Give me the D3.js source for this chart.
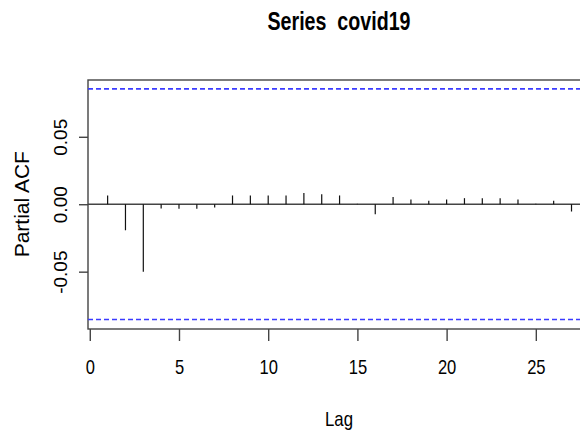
<!DOCTYPE html>
<html>
<head>
<meta charset="utf-8">
<script src="https://cdn.jsdelivr.net/npm/d3@7"></script>
<style>
	body { margin: 0; background: #fff; }
	text { fill: #000; }
</style>
</head>
<body>
<div id="chart"></div>
<script>
// Chart data.
var lags = [1, 2, 3, 4, 5, 6, 7, 8, 9, 10, 11, 12, 13, 14, 15, 16, 17, 18, 19, 20, 21, 22, 23, 24, 25, 26, 27];
var pacfValues = [0.0065, -0.0193, -0.0500, -0.0032, -0.0034, -0.0034, -0.0025, 0.0065, 0.0065, 0.0065,
	0.0065, 0.0084, 0.0074, 0.0065, 0.0003, -0.0074, 0.0054, 0.0035, 0.0025, 0.0035,
	0.0045, 0.0045, 0.0045, 0.0035, 0.0003, 0.0025, -0.0054];
var ciLimit = 0.0855;
var xTicks = [0, 5, 10, 15, 20, 25];
var yTicks = [-0.05, 0, 0.05];
var yTickLabels = ["-0.05", "0.00", "0.05"];

var width = 580;
var height = 434;
var plotLeft = 88, plotTop = 80, plotBottom = 329;
var narrowFont = "'Liberation Sans Narrow', 'Arial Narrow', 'Liberation Sans', sans-serif";

var svg = d3.select("#chart").append("svg")
		.attr("width", width)
		.attr("height", height);

var x = d3.scaleLinear()
		.domain([-0.1, 28.3])
		.range([plotLeft, 594.7]);

var y = d3.scaleLinear()
		.domain([-0.0925, 0.0921])
		.range([plotBottom, plotTop]);

var axisColor = "#444";

// plot box (runs off the right edge, like the original)
svg.append("rect")
		.attr("x", x(-0.1))
		.attr("y", y(0.0921))
		.attr("width", x(28.3) - x(-0.1))
		.attr("height", y(-0.0925) - y(0.0921))
		.attr("fill", "none")
		.attr("stroke", axisColor)
		.attr("stroke-width", 1.4);

// zero line
svg.append("line")
		.attr("x1", x(-0.1)).attr("x2", x(28.3))
		.attr("y1", y(0)).attr("y2", y(0))
		.attr("stroke", axisColor)
		.attr("stroke-width", 1.4);

// confidence limits
svg.selectAll("line.ci")
		.data([ciLimit, -ciLimit])
		.enter().append("line")
		.attr("class", "ci")
		.attr("x1", x(-0.1)).attr("x2", x(28.3))
		.attr("y1", function(d) { return y(d); })
		.attr("y2", function(d) { return y(d); })
		.attr("stroke", "#3b3bff")
		.attr("stroke-width", 1.6)
		.attr("stroke-dasharray", "5,3");

// spikes
svg.selectAll("line.spike")
		.data(lags)
		.enter().append("line")
		.attr("class", "spike")
		.attr("x1", function(d) { return x(d); })
		.attr("x2", function(d) { return x(d); })
		.attr("y1", y(0))
		.attr("y2", function(d, i) { return y(pacfValues[i]); })
		.attr("stroke", "#111")
		.attr("stroke-width", 1.2);

// x axis
var xAxis = d3.axisBottom(x)
		.tickValues(xTicks)
		.tickSize(12)
		.tickPadding(18)
		.tickFormat(d3.format("d"));

var gx = svg.append("g")
		.attr("transform", "translate(0," + plotBottom + ")")
		.call(xAxis);
gx.select(".domain").remove();
gx.selectAll(".tick line").attr("stroke", axisColor).attr("stroke-width", 1.4);
gx.selectAll(".tick text")
		.attr("font-family", narrowFont)
		.attr("font-size", 21)
		.attr("textLength", function(d) { return String(d).length * 9.2; })
		.attr("lengthAdjust", "spacingAndGlyphs")
		.attr("fill", "#000");

// y axis, labels rotated as in R
var yAxis = d3.axisLeft(y)
		.tickValues(yTicks)
		.tickSize(9)
		.tickFormat(function(d, i) { return yTickLabels[i]; });

var gy = svg.append("g")
		.attr("transform", "translate(" + plotLeft + ",0)")
		.call(yAxis);
gy.select(".domain").remove();
gy.selectAll(".tick line").attr("stroke", axisColor).attr("stroke-width", 1.4);
gy.selectAll(".tick text")
		.attr("x", null).attr("dy", null)
		.attr("transform", "translate(-21,0) rotate(-90)")
		.attr("text-anchor", "middle")
		.attr("font-family", "'Liberation Sans', Arial, sans-serif")
		.attr("font-size", 19)
		.attr("fill", "#000");

// titles
svg.append("text")
		.attr("x", 339)
		.attr("y", 30)
		.attr("text-anchor", "middle")
		.attr("font-family", narrowFont)
		.attr("font-weight", "bold")
		.attr("font-size", 25)
		.attr("textLength", 143)
		.attr("lengthAdjust", "spacingAndGlyphs")
		.attr("xml:space", "preserve")
		.style("white-space", "pre")
		.text("Series  covid19");

svg.append("text")
		.attr("x", 339)
		.attr("y", 426)
		.attr("text-anchor", "middle")
		.attr("font-family", narrowFont)
		.attr("font-size", 21)
		.attr("textLength", 28)
		.attr("lengthAdjust", "spacingAndGlyphs")
		.text("Lag");

svg.append("text")
		.attr("transform", "translate(29," + y(0) + ") rotate(-90)")
		.attr("text-anchor", "middle")
		.attr("font-family", "'Liberation Sans', Arial, sans-serif")
		.attr("font-size", 21)
		.text("Partial ACF");
</script>
</body>
</html>
